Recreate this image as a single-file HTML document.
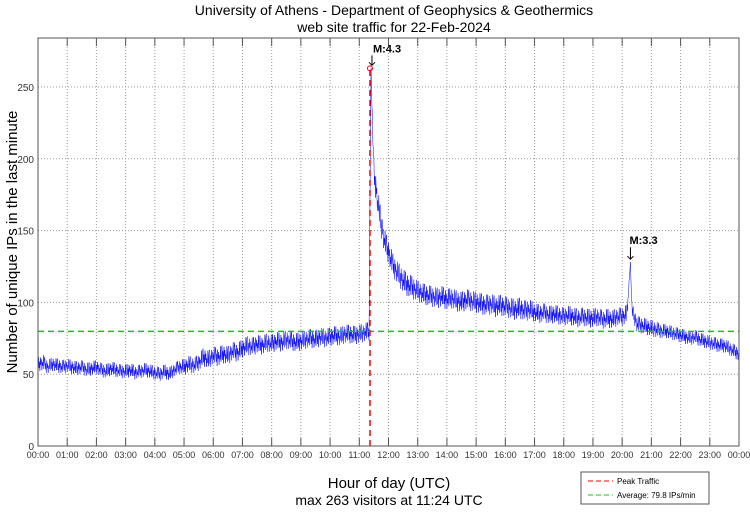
<!DOCTYPE html>
<html><head><meta charset="utf-8"><style>
body{margin:0;background:#fff;width:750px;height:511px;overflow:hidden}
text{font-family:"Liberation Sans",sans-serif}
</style></head><body>
<svg id="c" width="750" height="511" xmlns="http://www.w3.org/2000/svg">
<text x="394" y="15" font-size="14" text-anchor="middle">University of Athens - Department of Geophysics &amp; Geothermics</text>
<text x="394" y="32" font-size="14" text-anchor="middle">web site traffic for 22-Feb-2024</text>
<text transform="translate(17,242) rotate(-90)" font-size="15" text-anchor="middle">Number of unique IPs in the last minute</text>
<text x="389" y="488" font-size="15" text-anchor="middle">Hour of day (UTC)</text>
<text x="389" y="505" font-size="14" text-anchor="middle">max 263 visitors at 11:24 UTC</text>
<g id="grid"></g><g id="series"></g><g id="overlay"></g>
<rect x="38" y="38" width="701" height="408" fill="none" stroke="#555" stroke-width="1"/>
<g>
<rect x="581" y="472" width="128" height="32" fill="#fff" stroke="#555"/>
<line x1="588" y1="481" x2="613" y2="481" stroke="#f00" stroke-dasharray="5,3"/>
<text x="617" y="484" font-size="8">Peak Traffic</text>
<line x1="588" y1="495" x2="613" y2="495" stroke="#2b2" stroke-dasharray="5,3"/>
<text x="617" y="498" font-size="8">Average: 79.8 IPs/min</text>
</g>
</svg>
<script>
const yTicks=[0,50,100,150,200,250];
const hourLabels=["00:00","01:00","02:00","03:00","04:00","05:00","06:00","07:00","08:00","09:00","10:00","11:00","12:00","13:00","14:00","15:00","16:00","17:00","18:00","19:00","20:00","21:00","22:00","23:00","00:00"];
// visitors every 10 minutes, 00:00 .. 24:00
const visitors10=[
57,58,55,57,56,55,
56,55,54,55,53,54,
55,53,52,54,53,52,
52,53,51,52,53,52,
51,50,52,50,53,55,
55,57,56,58,62,60,
63,62,64,63,66,65,
68,70,69,71,70,72,
71,73,72,74,73,72,
73,74,75,74,76,75,
76,77,76,78,78,77,
78,79,80,190,165,145,
135,125,120,115,112,110,
108,106,105,104,103,104,
102,103,101,100,102,101,
100,99,98,99,97,98,
97,96,95,96,94,95,
93,92,93,91,92,91,
90,91,90,89,90,89,
89,90,88,89,88,90,
90,92,95,85,84,83,
82,81,80,80,79,78,
77,76,75,76,74,73,
72,71,70,70,68,66,
64];
const noise10=[
6,7,6,6,6,6, 6,6,6,6,6,6, 6,6,6,6,6,6, 6,6,6,6,6,6, 6,6,6,6,6,6,
7,7,7,7,8,8, 8,8,8,8,8,8, 8,8,8,8,8,8, 8,8,8,8,8,8, 8,8,8,8,8,8,
8,8,8,8,8,8, 8,8,8,12,12,10, 10,10,10,10,10,10, 9,9,9,9,9,9, 9,9,9,9,9,9,
9,9,9,9,9,9, 9,9,9,9,9,9, 8,8,8,8,8,8, 8,8,8,8,8,8, 8,8,8,8,8,8,
8,8,6,7,7,7, 7,7,6,6,6,6, 6,6,6,6,6,6, 6,6,6,6,6,6, 6];
const spikeTimes=[684,1217];
const spikeValues=[263,128];
const peakTime=684, peakVal=263, avgVal=79.8, quake2Time=1217, quake2Val=128;
const L=38,R=739,T=38,B=446;
const X=m=>L+(R-L)*m/1440, Y=v=>B-(B-87)*v/250;
const NS="http://www.w3.org/2000/svg";
function mk(p,tag,at){const e=document.createElementNS(NS,tag);for(const k in at)e.setAttribute(k,at[k]);p.appendChild(e);return e;}
const g=document.getElementById('grid');
yTicks.forEach(v=>{
 if(v>0){const l=mk(g,'line',{x1:L,x2:R,y1:Y(v),y2:Y(v),stroke:'#999','stroke-dasharray':'1,2'});
 
 }
 const t=mk(g,'text',{x:L-4,y:Y(v)+4,'font-size':10,'text-anchor':'end',fill:'#333'});t.textContent=v;
 
 
});
hourLabels.forEach((s,i)=>{
 const x=X(i*60);
 if(i>0&&i<24){const l=mk(g,'line',{x1:x,x2:x,y1:T,y2:B,stroke:'#999','stroke-dasharray':'1,2'});
 
 
 mk(g,'line',{x1:x,x2:x,y1:B,y2:B-8,stroke:'#555'});mk(g,'line',{x1:x,x2:x,y1:T,y2:T+8,stroke:'#555'});}
 const t=mk(g,'text',{x:x,y:B+12,'font-size':9,'text-anchor':'middle',fill:'#333'});t.textContent=s;
 
 
});
// merge base series and spikes
let pts=visitors10.map((v,i)=>({t:i*10,v:v,s:noise10[i]||6}));
spikeTimes.forEach((t,i)=>pts.push({t:t,v:spikeValues[i],s:0}));
pts.sort((a,b)=>a.t-b.t);
const jit=[1,-0.6,0.3,-1,0.8,-0.2,0.5,-0.9,0.1,-0.4,1,-0.7,0.6];
const sg=document.getElementById('series');
let d='M'+X(pts[0].t)+','+Y(pts[0].v);let c=0;
for(let i=0;i<pts.length-1;i++){
 const a=pts[i],b=pts[i+1],n=Math.max(1,Math.round(b.t-a.t));
 for(let k=1;k<=n;k++){const f=k/n,t=a.t+(b.t-a.t)*f,v=a.v+(b.v-a.v)*f,s=(k===n)?b.s:a.s+(b.s-a.s)*f;
  const off=jit[(c++)%jit.length]*s*0.8;d+='L'+X(t).toFixed(1)+','+Y(v+off).toFixed(1);}
}
const p=mk(sg,'path',{d:d,fill:'none',stroke:'#00f','stroke-width':0.5});


const o=document.getElementById('overlay');
const av=mk(o,'line',{x1:L,x2:R,y1:Y(avgVal),y2:Y(avgVal),stroke:'#2b2','stroke-width':1.5,'stroke-dasharray':'6,4'});


const pk=mk(o,'line',{x1:X(peakTime)-1,x2:X(peakTime)-1,y1:B,y2:Y(peakVal),stroke:'#f00','stroke-width':1.5,'stroke-dasharray':'6,4'});


const pc=mk(o,'circle',{cx:X(peakTime)-1,cy:Y(peakVal),r:2.5,fill:'none',stroke:'#f00'});


const a1=mk(o,'text',{x:X(peakTime)+2,y:Y(peakVal)-16,'font-size':11,'font-weight':'bold'});a1.textContent='M:4.3';


mk(o,'path',{d:`M${X(peakTime)+1},${Y(peakVal)-13}V${Y(peakVal)-3}M${X(peakTime)-2},${Y(peakVal)-6}L${X(peakTime)+1},${Y(peakVal)-3}L${X(peakTime)+4},${Y(peakVal)-6}`,stroke:'#000',fill:'none'});
const a2=mk(o,'text',{x:X(quake2Time)-1,y:Y(quake2Val)-18,'font-size':11,'font-weight':'bold'});a2.textContent='M:3.3';


mk(o,'path',{d:`M${X(quake2Time)},${Y(quake2Val)-15}V${Y(quake2Val)-3}M${X(quake2Time)-3},${Y(quake2Val)-6}L${X(quake2Time)},${Y(quake2Val)-3}L${X(quake2Time)+3},${Y(quake2Val)-6}`,stroke:'#000',fill:'none'});
</script>
</body></html>
